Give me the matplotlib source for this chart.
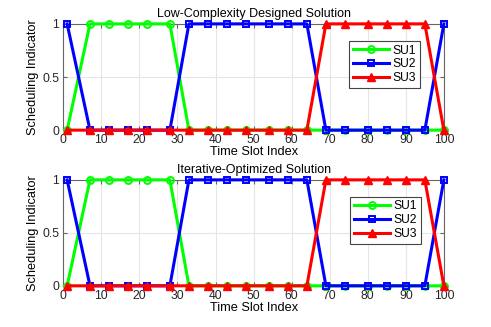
import matplotlib
matplotlib.use("Agg")
import matplotlib.pyplot as plt

# time slots where the scheduling decision is sampled
slots = [1, 7, 12, 17, 22, 28, 33, 38, 43, 48, 54, 59, 64, 69, 74, 80, 85, 90, 95, 100]

# low-complexity designed solution
low_su1 = [0, 1, 1, 1, 1, 1, 0, 0, 0, 0, 0, 0, 0, 0, 0, 0, 0, 0, 0, 0]
low_su2 = [1, 0, 0, 0, 0, 0, 1, 1, 1, 1, 1, 1, 1, 0, 0, 0, 0, 0, 0, 1]
low_su3 = [0, 0, 0, 0, 0, 0, 0, 0, 0, 0, 0, 0, 0, 1, 1, 1, 1, 1, 1, 0]

# iterative-optimized solution
iter_su1 = [0, 1, 1, 1, 1, 1, 0, 0, 0, 0, 0, 0, 0, 0, 0, 0, 0, 0, 0, 0]
iter_su2 = [1, 0, 0, 0, 0, 0, 1, 1, 1, 1, 1, 1, 1, 0, 0, 0, 0, 0, 0, 1]
iter_su3 = [0, 0, 0, 0, 0, 0, 0, 0, 0, 0, 0, 0, 0, 1, 1, 1, 1, 1, 1, 0]

titles = ["Low-Complexity Designed Solution", "Iterative-Optimized Solution"]
x_ticks = [0, 10, 20, 30, 40, 50, 60, 70, 80, 90, 100]
y_ticks = [0, 0.5, 1]
y_tick_labels = ["0", "0.5", "1"]

plt.rcParams["font.family"] = ["Liberation Sans", "DejaVu Sans"]
fig = plt.figure(figsize=(4.91, 3.27), dpi=100)

axes_rects = [
    [0.129, 0.602, 0.775, 0.325],
    [0.129, 0.126, 0.775, 0.324],
]
legend_anchors = [(0.711, 0.875), (0.713, 0.398)]
panels = [
    (low_su1, low_su2, low_su3),
    (iter_su1, iter_su2, iter_su3),
]

axis_color = "#666666"
for rect, title, (su1, su2, su3), anchor in zip(axes_rects, titles, panels, legend_anchors):
    ax = fig.add_axes(rect)
    ax.plot(slots, su1, color="#00ff00", lw=2.2, marker="o", ms=5,
            mfc="none", mew=1.4, label="SU1", zorder=3, clip_on=False)
    ax.plot(slots, su2, color="#0000ff", lw=2.2, marker="s", ms=4.5,
            mfc="none", mew=1.4, label="SU2", zorder=4, clip_on=False)
    ax.plot(slots, su3, color="#ff0000", lw=2.2, marker="^", ms=6,
            mfc="#ff0000", mew=1, label="SU3", zorder=5, clip_on=False)
    ax.set_xlim(0, 100)
    ax.set_ylim(0, 1)
    ax.set_xticks(x_ticks)
    ax.set_yticks(y_ticks)
    ax.set_yticklabels(y_tick_labels)
    ax.grid(True, color="#e6e6e6", lw=0.8)
    ax.set_axisbelow(True)
    ax.tick_params(direction="in", length=3, color=axis_color, labelsize=8.7,
                   top=True, right=True, pad=3)
    for spine in ax.spines.values():
        spine.set_color(axis_color)
        spine.set_linewidth(0.8)
    ax.set_title(title, fontsize=9, pad=5)
    ax.set_xlabel("Time Slot Index", fontsize=9.2, labelpad=0)
    ax.set_ylabel("Scheduling Indicator", fontsize=9.2, labelpad=2)
    for lab in ax.get_xticklabels() + ax.get_yticklabels():
        lab.set_color("#262626")
    leg = fig.legend(handles=ax.get_lines(), loc="upper left", bbox_to_anchor=anchor,
                     fontsize=8.7, numpoints=1, handlelength=3.0, handletextpad=0.3,
                     borderpad=0.3, labelspacing=0.15, fancybox=False, framealpha=1,
                     edgecolor="#444444", borderaxespad=0)
    leg.get_frame().set_linewidth(0.8)

fig.savefig("out.png", dpi=100)
